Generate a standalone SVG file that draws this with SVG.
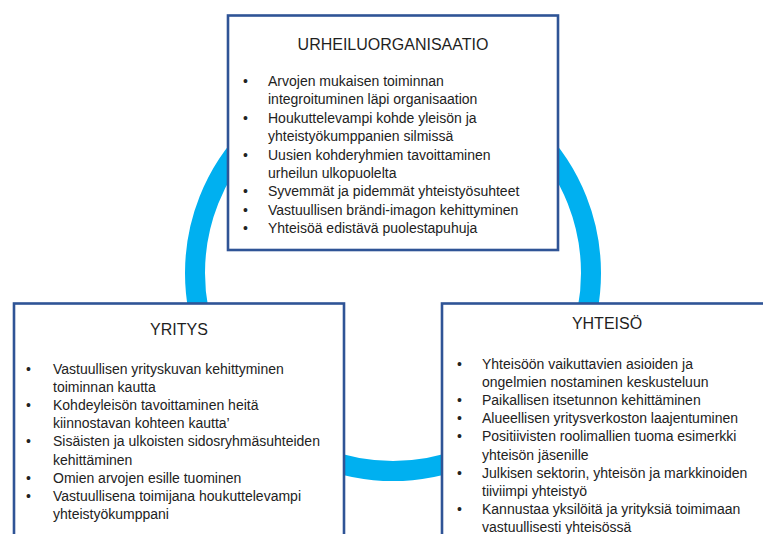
<svg xmlns="http://www.w3.org/2000/svg" width="763" height="534" viewBox="0 0 763 534">
<style>
.box{fill:#ffffff;stroke:#2F5496;stroke-width:2.6}
.title{font-family:"Liberation Sans",Arial,sans-serif;font-size:16px;fill:#1f1f1f;text-anchor:middle}
.t{font-family:"Liberation Sans",Arial,sans-serif;font-size:14px;fill:#222222}
.ring{fill:none;stroke:#00B0F0;stroke-width:20}
</style>
<rect x="0" y="0" width="763" height="534" fill="#ffffff"/>
<g id="connectors">
<circle class="ring" cx="393" cy="273" r="198"/>
</g>
<g id="urheiluorganisaatio">
<rect class="box" x="228" y="15.5" width="330" height="234.5"/>
<text class="title" x="393" y="50">URHEILUORGANISAATIO</text>
<text class="t" x="243" y="86">•</text><text class="t" x="268" y="86">Arvojen mukaisen toiminnan</text>
<text class="t" x="268" y="104.4">integroituminen läpi organisaation</text>
<text class="t" x="243" y="122.8">•</text><text class="t" x="268" y="122.8">Houkuttelevampi kohde yleisön ja</text>
<text class="t" x="268" y="141.2">yhteistyökumppanien silmissä</text>
<text class="t" x="243" y="159.6">•</text><text class="t" x="268" y="159.6">Uusien kohderyhmien tavoittaminen</text>
<text class="t" x="268" y="178">urheilun ulkopuolelta</text>
<text class="t" x="243" y="196.4">•</text><text class="t" x="268" y="196.4">Syvemmät ja pidemmät yhteistyösuhteet</text>
<text class="t" x="243" y="214.8">•</text><text class="t" x="268" y="214.8">Vastuullisen brändi-imagon kehittyminen</text>
<text class="t" x="243" y="233.2">•</text><text class="t" x="268" y="233.2">Yhteisöä edistävä puolestapuhuja</text>
</g>
<g id="yritys">
<rect class="box" x="14" y="303.5" width="330" height="250"/>
<text class="title" x="179" y="335">YRITYS</text>
<text class="t" x="26" y="374">•</text><text class="t" x="53" y="374">Vastuullisen yrityskuvan kehittyminen</text>
<text class="t" x="53" y="392.1">toiminnan kautta</text>
<text class="t" x="26" y="410.2">•</text><text class="t" x="53" y="410.2">Kohdeyleisön tavoittaminen heitä</text>
<text class="t" x="53" y="428.3">kiinnostavan kohteen kautta’</text>
<text class="t" x="26" y="446.4">•</text><text class="t" x="53" y="446.4">Sisäisten ja ulkoisten sidosryhmäsuhteiden</text>
<text class="t" x="53" y="464.5">kehittäminen</text>
<text class="t" x="26" y="482.6">•</text><text class="t" x="53" y="482.6">Omien arvojen esille tuominen</text>
<text class="t" x="26" y="500.7">•</text><text class="t" x="53" y="500.7">Vastuullisena toimijana houkuttelevampi</text>
<text class="t" x="53" y="518.8">yhteistyökumppani</text>
</g>
<g id="yhteiso">
<rect class="box" x="442" y="303.5" width="330" height="250"/>
<text class="title" x="607" y="329">YHTEISÖ</text>
<text class="t" x="457" y="368.5">•</text><text class="t" x="482" y="368.5">Yhteisöön vaikuttavien asioiden ja</text>
<text class="t" x="482" y="386.7">ongelmien nostaminen keskusteluun</text>
<text class="t" x="457" y="404.9">•</text><text class="t" x="482" y="404.9">Paikallisen itsetunnon kehittäminen</text>
<text class="t" x="457" y="423.1">•</text><text class="t" x="482" y="423.1">Alueellisen yritysverkoston laajentuminen</text>
<text class="t" x="457" y="441.3">•</text><text class="t" x="482" y="441.3">Positiivisten roolimallien tuoma esimerkki</text>
<text class="t" x="482" y="459.5">yhteisön jäsenille</text>
<text class="t" x="457" y="477.7">•</text><text class="t" x="482" y="477.7">Julkisen sektorin, yhteisön ja markkinoiden</text>
<text class="t" x="482" y="495.9">tiiviimpi yhteistyö</text>
<text class="t" x="457" y="514.1">•</text><text class="t" x="482" y="514.1">Kannustaa yksilöitä ja yrityksiä toimimaan</text>
<text class="t" x="482" y="532.3">vastuullisesti yhteisössä</text>
</g>
</svg>
